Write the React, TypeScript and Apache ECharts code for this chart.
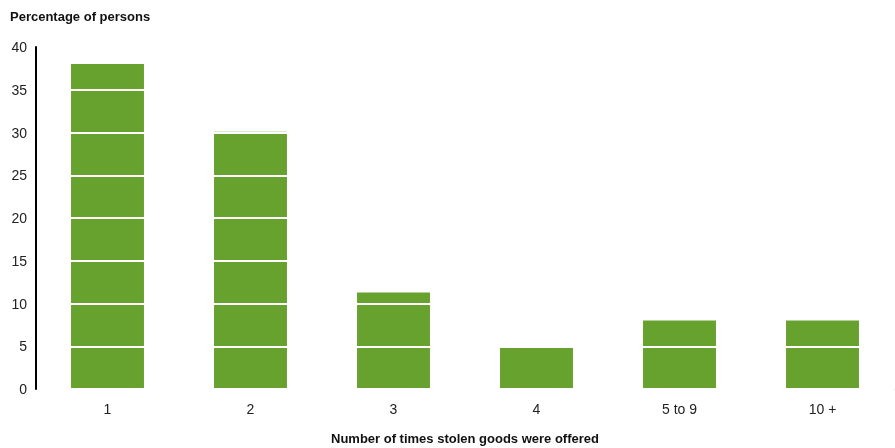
import React, { useEffect, useRef } from "react";
import * as echarts from "echarts";

const categories = ["1", "2", "3", "4", "5 to 9", "10 +"];
const values = [38.0, 30.1, 11.3, 5.0, 8.0, 8.0];
const yTitle = "Percentage of persons";
const xTitle = "Number of times stolen goods were offered";

export default function App() {
  const ref = useRef<HTMLDivElement>(null);
  useEffect(() => {
    const chart = echarts.init(ref.current!, null, { renderer: "svg" });
    const font = "'Liberation Sans', Arial, sans-serif";
    chart.setOption({
      animation: false,
      textStyle: { fontFamily: font },
      graphic: [
        {
          type: "text",
          left: 10,
          top: 10,
          style: { text: yTitle, font: `bold 13px ${font}`, fill: "#111" },
        },
      ],
      grid: { left: 36, right: 1, top: 47, bottom: 59, outerBoundsMode: "none", containLabel: false },
      xAxis: {
        type: "category",
        data: categories,
        name: xTitle,
        nameLocation: "middle",
        nameGap: 43,
        nameTextStyle: { fontFamily: font, fontSize: 13, fontWeight: "bold", color: "#111" },
        axisLine: { lineStyle: { color: "#bbbbbb", width: 1 } },
        axisTick: { show: false },
        axisLabel: { color: "#222", fontSize: 14, margin: 13, fontFamily: font },
      },
      yAxis: {
        type: "value",
        min: 0,
        max: 40,
        interval: 5,
        z: 10,
        axisLine: { show: true, lineStyle: { color: "#000", width: 2 } },
        axisTick: { show: false },
        axisLabel: { color: "#222", fontSize: 14, margin: 9, fontFamily: font },
        splitLine: { show: true, lineStyle: { color: "#ffffff", width: 2 } },
      },
      series: [
        {
          type: "bar",
          data: values,
          barWidth: "51%",
          itemStyle: { color: "#68a22e" },
          z: 2,
        },
      ],
    });
    return () => chart.dispose();
  }, []);
  return (
    <div
      ref={ref}
      style={{ position: "fixed", left: 0, top: 0, width: 895, height: 448 }}
    />
  );
}
